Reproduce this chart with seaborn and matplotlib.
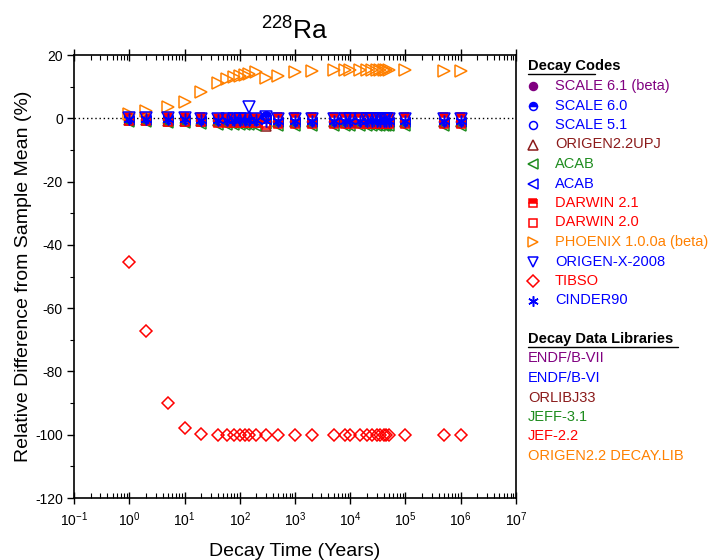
import matplotlib
matplotlib.use("Agg")
import numpy as np
import pandas as pd
import matplotlib.pyplot as plt
import seaborn as sns
from matplotlib.ticker import LogLocator, MultipleLocator, NullFormatter

sns.set_theme(style="white")
plt.rcParams['font.family'] = ['Liberation Sans', 'DejaVu Sans']
plt.rcParams['mathtext.fontset'] = 'custom'
plt.rcParams['mathtext.rm'] = 'Liberation Sans'
plt.rcParams['mathtext.it'] = 'Liberation Sans:italic'
plt.rcParams['mathtext.bf'] = 'Liberation Sans:bold'
plt.rcParams['axes.unicode_minus'] = False
plt.rcParams['text.color'] = 'black'
plt.rcParams['axes.labelcolor'] = 'black'
plt.rcParams['xtick.color'] = 'black'
plt.rcParams['ytick.color'] = 'black'

# Decay times (years)
decay_time = [1, 2, 5, 10, 20, 40, 60, 80, 100, 125, 150, 200, 300, 500, 1000,
              2000, 5000, 8000, 1e4, 1.5e4, 2e4, 2.5e4, 3e4, 3.5e4, 4e4, 4.5e4,
              5e4, 1e5, 5e5, 1e6]

# Relative difference from sample mean (%) per decay code
scale61 = [0.2, 0.2, 0.1, 0.1, 0.0, -0.1, -0.1, -0.1, -0.1, -0.2, -0.2, -0.2, 0.6, -0.3, -0.3,
           -0.3, -0.3, -0.3, -0.3, -0.3, -0.3, -0.3, -0.3, -0.3, -0.3, -0.3, -0.3, -0.3, -0.3, -0.3]
scale60 = [0.0, 0.0, -0.1, -0.2, -0.3, -0.4, -0.4, -0.4, -0.4, -0.5, -0.5, -0.5, 0.8, -0.6, -0.6,
           -0.6, -0.6, -0.6, -0.6, -0.6, -0.6, -0.6, -0.6, -0.6, -0.6, -0.6, -0.6, -0.6, -0.6, -0.6]
scale51 = [-0.1, -0.1, -0.2, -0.3, -0.4, -0.5, -0.5, -0.5, -0.5, -0.6, -0.6, -0.6, 0.3, -0.7, -0.7,
           -0.7, -0.7, -0.7, -0.7, -0.7, -0.7, -0.7, -0.7, -0.7, -0.7, -0.7, -0.7, -0.7, -0.7, -0.7]
origen22upj = [-0.6, -0.6, -0.7, -0.8, -0.9, -1.0, -1.0, -1.1, -1.1, -1.1, -1.2, -1.2, -2.3, -1.3, -1.3,
               -1.3, -1.3, -1.3, -1.3, -1.3, -1.3, -1.3, -1.3, -1.3, -1.3, -1.3, -1.3, -1.3, -1.3, -1.3]
acab_jeff = [-1.2, -1.3, -1.4, -1.6, -1.8, -2.0, -2.1, -2.1, -2.2, -2.2, -2.2, -2.3, -1.8, -2.4, -2.4,
             -2.4, -2.4, -2.4, -2.4, -2.4, -2.4, -2.4, -2.4, -2.4, -2.4, -2.4, -2.4, -2.4, -2.4, -2.4]
acab_endf = [-0.4, -0.4, -0.5, -0.6, -0.7, -0.8, -0.9, -0.9, -0.9, -1.0, -1.0, -1.0, -0.4, -1.1, -1.1,
             -1.1, -1.1, -1.1, -1.1, -1.1, -1.1, -1.1, -1.1, -1.1, -1.1, -1.1, -1.1, -1.1, -1.1, -1.1]
darwin21 = [0.4, 0.4, 0.4, 0.3, 0.3, 0.2, 0.2, 0.2, 0.2, 0.2, 0.2, 0.2, -1.6, 0.3, 0.3,
            0.3, 0.3, 0.3, 0.3, 0.3, 0.3, 0.3, 0.3, 0.3, 0.3, 0.3, 0.3, 0.3, 0.3, 0.3]
darwin20 = [-1.0, -1.0, -1.1, -1.2, -1.3, -1.4, -1.5, -1.5, -1.5, -1.6, -1.6, -1.6, -2.0, -1.9, -1.9,
            -1.9, -1.9, -1.9, -1.9, -1.9, -1.9, -1.9, -1.9, -1.9, -1.9, -1.9, -1.9, -1.9, -1.9, -1.9]
phoenix = [1.5, 2.3, 3.7, 5.3, 8.2, 11.0, 12.4, 13.0, 13.4, 13.7, 14.0, 14.6, 12.8, 13.5, 14.5,
           15.0, 15.2, 15.2, 15.2, 15.2, 15.2, 15.2, 15.2, 15.2, 15.2, 15.2, 15.2, 15.2, 15.1, 15.1]
origenx = [0.1, 0.1, 0.0, 0.0, -0.1, -0.1, -0.2, -0.2, -0.2, -0.2, 3.7, -0.3, 0.3, -0.3, -0.3,
           -0.3, -0.3, -0.3, -0.3, -0.3, -0.3, -0.3, -0.3, -0.3, -0.3, -0.3, -0.3, -0.3, -0.3, -0.3]
tibso = [-45.5, -67.3, -90.0, -97.8, -99.8, -100.0, -100.0, -100.0, -100.0, -100.0, -100.0, -100.0,
         -100.0, -100.0, -100.0, -100.0, -100.0, -100.0, -100.0, -100.0, -100.0, -100.0, -100.0,
         -100.0, -100.0, -100.0, -100.0, -100.0, -100.0, -100.0]
cinder90 = [-0.2, -0.2, -0.3, -0.3, -0.4, -0.5, -0.5, -0.5, -0.6, -0.6, -0.6, -0.6, -0.9, -0.7, -0.7,
            -0.7, -0.7, -0.7, -0.7, -0.7, -0.7, -0.7, -0.7, -0.7, -0.7, -0.7, -0.7, -0.7, -0.7, -0.7]

code_labels = ["SCALE 6.1 (beta)", "SCALE 6.0", "SCALE 5.1", "ORIGEN2.2UPJ", "ACAB", "ACAB",
               "DARWIN 2.1", "DARWIN 2.0", "PHOENIX 1.0.0a (beta)", "ORIGEN-X-2008", "TIBSO", "CINDER90"]
library_labels = ["ENDF/B-VII", "ENDF/B-VI", "ORLIBJ33", "JEFF-3.1", "JEF-2.2", "ORIGEN2.2 DECAY.LIB"]

PURPLE, BLUE, DKRED, GREEN, RED, ORANGE = "#800080", "#0000FF", "#8B1A1A", "#1E8C1E", "#FF0000", "#FF8000"
library_colors = [PURPLE, BLUE, DKRED, GREEN, RED, ORANGE]

# (values, color, marker, fillstyle, markersize)
styles = [
    (scale61, PURPLE, "o", "full", 6.5),
    (scale60, BLUE, "o", "top", 6.5),
    (scale51, BLUE, "o", "none", 6.5),
    (origen22upj, DKRED, "^", "none", 7.5),
    (acab_jeff, GREEN, "<", "none", 7.5),
    (acab_endf, BLUE, "<", "none", 7.5),
    (darwin21, RED, "s", "top", 6.0),
    (darwin20, RED, "s", "none", 6.0),
    (phoenix, ORANGE, ">", "none", 8.0),
    (origenx, BLUE, "v", "none", 8.0),
    (tibso, RED, "D", "none", 6.5),
    (cinder90, BLUE, (6, 2, 0), "full", 8.5),
]

fig = plt.figure(figsize=(7.21, 5.60), dpi=100)
ax = fig.add_axes([74 / 721, 62 / 560, 442 / 721, 443 / 560])
ax.set_xscale("log")

ax.axhline(0, color="black", lw=1.0, ls=(0, (1, 2)), zorder=1)

for (vals, col, mk, fs, ms), lab in zip(styles, code_labels):
    df = pd.DataFrame({"t": decay_time, "v": vals})
    sns.lineplot(data=df, x="t", y="v", ax=ax, estimator=None, sort=False,
                 color=col, marker=mk, linestyle="", fillstyle=fs,
                 markerfacecoloralt="white", markeredgecolor=col,
                 markeredgewidth=1.1, markersize=ms, zorder=3)

ax.set_xlim(1e-1, 1e7)
ax.set_ylim(-120, 20)
ax.xaxis.set_major_locator(LogLocator(base=10, numticks=20))
ax.xaxis.set_minor_locator(LogLocator(base=10, subs=np.arange(2, 10), numticks=20))
ax.xaxis.set_minor_formatter(NullFormatter())
ax.yaxis.set_major_locator(MultipleLocator(20))
ax.yaxis.set_minor_locator(MultipleLocator(10))

for s in ax.spines.values():
    s.set_color("black")
    s.set_linewidth(1.2)

ax.tick_params(axis="x", which="major", direction="inout", length=8, width=1.0,
               bottom=True, top=True, labelsize=10, colors="black", pad=5)
ax.tick_params(axis="x", which="minor", direction="in", length=3.5, width=0.8,
               bottom=True, top=True)
ax.tick_params(axis="y", which="major", direction="out", length=5, width=1.0,
               left=True, right=False, labelsize=10, colors="black", pad=3)
ax.tick_params(axis="y", which="minor", direction="out", length=3, width=0.8,
               left=True, right=False)
ax.grid(False)

ax.set_xlabel("Decay Time (Years)", fontsize=14, labelpad=10)
ax.set_ylabel("Relative Difference from Sample Mean (%)", fontsize=14, labelpad=2)
fig.text(295 / 721, 1 - 31 / 560, r"$^{228}$Ra", fontsize=19, ha="center", va="center")

# Legend panel drawn in pixel coordinates
lax = fig.add_axes([0, 0, 1, 1])
lax.set_xlim(0, 721)
lax.set_ylim(560, 0)
lax.axis("off")

fs_leg = 10.5
lax.text(528, 66, "Decay Codes", fontsize=fs_leg, fontweight="bold", va="center", ha="left")
lax.plot([528, 595], [74, 74], color="black", lw=1.0)
row_y = [86, 105.5, 125, 144.5, 164, 183.5, 203, 222.5, 242, 261.5, 281, 300.5]
text_cols = [PURPLE, BLUE, BLUE, DKRED, GREEN, BLUE, RED, RED, ORANGE, BLUE, RED, BLUE]
for (vals, col, mk, fs, ms), lab, y, tc in zip(styles, code_labels, row_y, text_cols):
    lax.plot([533], [y], color=col, marker=mk, linestyle="", fillstyle=fs,
             markerfacecoloralt="white", markeredgecolor=col, markeredgewidth=1.1,
             markersize=ms * 0.88)
    lax.text(555, y, lab, color=tc, fontsize=fs_leg, va="center", ha="left")

lax.text(528, 339, "Decay Data Libraries", fontsize=fs_leg, fontweight="bold", va="center", ha="left")
lax.plot([528, 678], [347, 347], color="black", lw=1.0)
lib_y = [358.5, 378, 397.5, 417, 436.5, 456]
for lab, col, y in zip(library_labels, library_colors, lib_y):
    lax.text(528, y, lab, color=col, fontsize=fs_leg, va="center", ha="left")

fig.savefig("out.png", dpi=100)
